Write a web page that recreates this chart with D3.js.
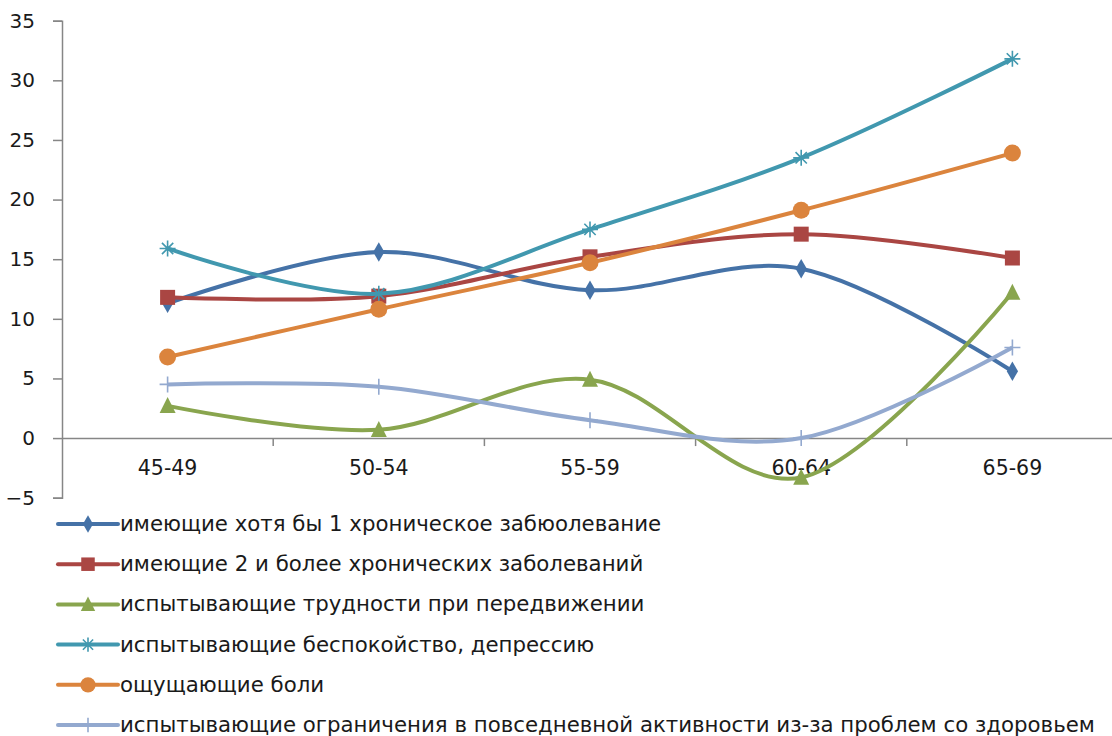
<!DOCTYPE html>
<html><head><meta charset="utf-8">
<script src="https://cdn.jsdelivr.net/npm/d3@7"></script>
<style>
html,body{margin:0;padding:0;background:#fff;}
svg{display:block;}
text{font-family:"DejaVu Sans",sans-serif;fill:#1a1a1a;}
</style></head>
<body>
<svg id="chart" width="1112" height="736"></svg>
<script>
const categories = ["45-49","50-54","55-59","60-64","65-69"];
const seriesNames = [
  "имеющие хотя бы 1 хроническое забюолевание",
  "имеющие 2 и более хронических заболеваний",
  "испытывающие трудности при передвижении",
  "испытывающие беспокойство, депрессию",
  "ощущающие боли",
  "испытывающие ограничения в повседневной активности из-за проблем со здоровьем"
];
const s1 = [11.3, 15.6, 12.4, 14.2, 5.6];
const s2 = [11.8, 11.9, 15.2, 17.1, 15.1];
const s3 = [2.7, 0.7, 4.9, -3.3, 12.2];
const s4 = [15.9, 12.1, 17.5, 23.5, 31.8];
const s5 = [6.8, 10.8, 14.7, 19.1, 23.9];
const s6 = [4.5, 4.3, 1.5, 0.0, 7.6];
const yTicks = [-5, 0, 5, 10, 15, 20, 25, 30, 35];
const colors = ["#4572A7","#AA4643","#89A54E","#4198AF","#DB843D","#93A9CF"];
const markers = ["diamond","square","triangle","asterisk","circle","plus"];
const allSeries = [s1,s2,s3,s4,s5,s6];

const svg = d3.select("#chart");
const x = d3.scaleBand().domain(categories).range([62, 1118]);
const y = d3.scaleLinear().domain([-5, 35]).range([497.7, 20.7]);
const axisColor = "#868686";

// y axis
const yAxis = svg.append("g").attr("transform","translate(62,0)")
  .call(d3.axisLeft(y).tickValues(yTicks).tickSize(9).tickPadding(18).tickFormat(d3.format("d")));
yAxis.select(".domain").attr("stroke",axisColor).attr("stroke-width",1.5);
yAxis.selectAll(".tick line").attr("stroke",axisColor).attr("stroke-width",1.5);
yAxis.selectAll(".tick text").attr("font-size",20).attr("font-family","DejaVu Sans").attr("fill","#1a1a1a");

// x axis at 0
const xAxis = svg.append("g").attr("transform",`translate(0,${y(0)})`)
  .call(d3.axisBottom(x).tickSize(0).tickPadding(22));
xAxis.select(".domain").attr("stroke",axisColor).attr("stroke-width",1.5);
xAxis.selectAll(".tick text").attr("font-size",20.5).attr("font-family","DejaVu Sans").attr("fill","#1a1a1a");
// boundary ticks
const bounds = categories.slice(1).map(c => x(c)).concat([x(categories[4]) + x.bandwidth()]);
svg.append("g").selectAll("line").data(bounds).join("line")
  .attr("x1",d=>d).attr("x2",d=>d).attr("y1",y(0)).attr("y2",y(0)+8)
  .attr("stroke",axisColor).attr("stroke-width",1.5);

const cx = c => x(c) + x.bandwidth()/2;
const line = d3.line().x((d,i)=>cx(categories[i])).y(d=>y(d)).curve(d3.curveCatmullRom.alpha(0));

function drawMarker(g, type, color, px, py, scale) {
  const k = scale || 1;
  if (type === "diamond") {
    g.append("path").attr("d", d3.symbol(d3.symbolDiamond, 110*k*k)()).attr("transform",`translate(${px},${py})`).attr("fill",color);
  } else if (type === "square") {
    const s = 15*k;
    g.append("rect").attr("x",px-s/2).attr("y",py-s/2).attr("width",s).attr("height",s).attr("fill",color);
  } else if (type === "triangle") {
    const s = 16*k;
    g.append("path").attr("d",`M${px},${py-s*0.55}L${px+s/2},${py+s*0.45}L${px-s/2},${py+s*0.45}Z`).attr("fill",color);
  } else if (type === "circle") {
    g.append("circle").attr("cx",px).attr("cy",py).attr("r",8.5*k).attr("fill",color);
  } else if (type === "asterisk") {
    const r = 8*k;
    const a = Math.PI/4;
    let d = `M${px-r},${py}L${px+r},${py}M${px},${py-r}L${px},${py+r}`;
    d += `M${px-r*Math.cos(a)},${py-r*Math.sin(a)}L${px+r*Math.cos(a)},${py+r*Math.sin(a)}`;
    d += `M${px-r*Math.cos(a)},${py+r*Math.sin(a)}L${px+r*Math.cos(a)},${py-r*Math.sin(a)}`;
    g.append("path").attr("d",d).attr("stroke",color).attr("stroke-width",1.6).attr("fill","none");
  } else if (type === "plus") {
    const r = 8*k;
    g.append("path").attr("d",`M${px-r},${py}L${px+r},${py}M${px},${py-r}L${px},${py+r}`).attr("stroke",color).attr("stroke-width",1.6).attr("fill","none");
  }
}

allSeries.forEach((vals, si) => {
  const g = svg.append("g");
  g.append("path").datum(vals).attr("d", line).attr("fill","none")
    .attr("stroke", colors[si]).attr("stroke-width", 4).attr("stroke-linejoin","round");
  vals.forEach((v,i) => drawMarker(g, markers[si], colors[si], cx(categories[i]), y(v)));
});

// legend
const legY0 = 524, legDy = 40.2;
seriesNames.forEach((name, si) => {
  const g = svg.append("g");
  const ly = legY0 + si*legDy;
  g.append("line").attr("x1",58).attr("x2",118).attr("y1",ly).attr("y2",ly)
    .attr("stroke",colors[si]).attr("stroke-width",4).attr("stroke-linecap","round");
  drawMarker(g, markers[si], colors[si], 88, ly, 0.9);
  g.append("text").attr("x",120).attr("y",ly + 7)
    .attr("font-size",21.3).text(name);
});
</script>
</body></html>
